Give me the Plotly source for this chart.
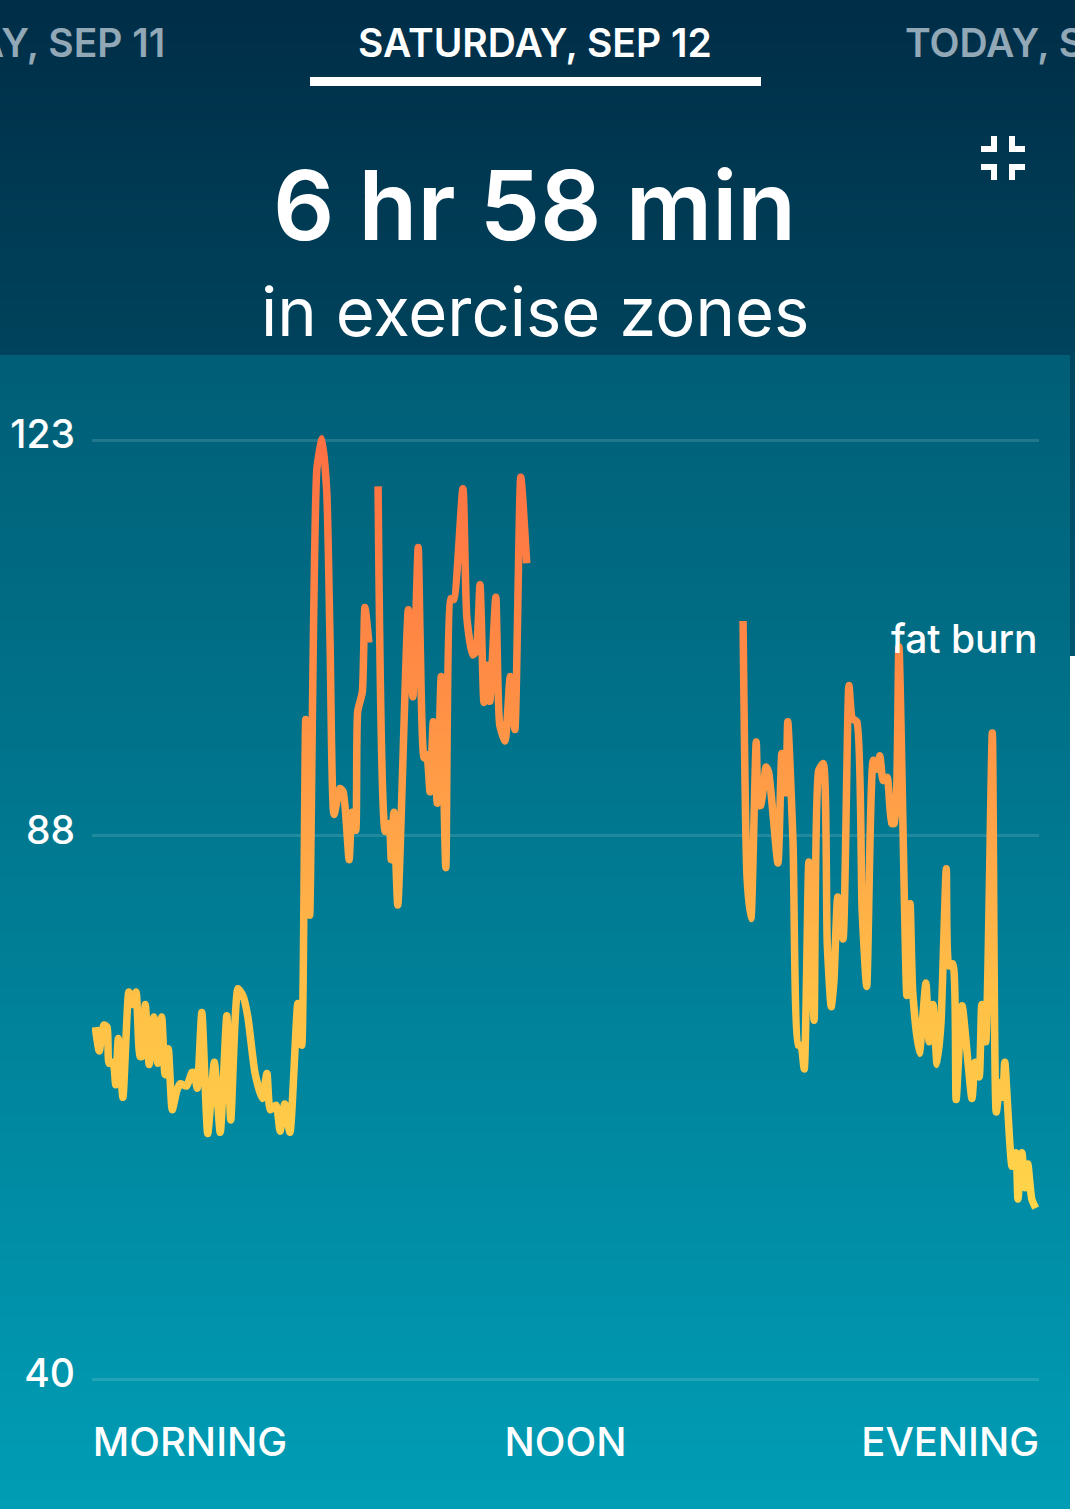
import plotly.graph_objects as go

W, H = 1075, 1509

# ---- data: minutes since the start of the day, heart rate in bpm ----
minutes_a = [5,11,18,23,26,32,36,40,47,56,61,67,73,76,81,87,94,100,106,111,116,122,129,134,144,152,155,160,167,176,186,195,205,211,222,230,237,248,259,266,271,280,286,293,301,313,319,325,331,342,350,357,362,368,377,382,391,395,401,404,411,415,421]
bpm_a = [71.1,69.0,71.3,71.1,67.9,68.0,66.0,70.1,64.9,74.2,73.1,74.2,68.5,68.5,73.1,67.8,72.0,67.9,72.0,66.9,69.2,63.8,65.5,66.1,65.9,67.1,67.1,65.7,72.4,61.7,68.0,61.8,72.1,62.9,74.5,73.8,72.0,67.0,64.8,67.0,63.8,64.2,61.9,64.3,61.8,73.2,69.5,98.3,81.0,120.5,123.1,118.4,105.1,89.9,92.2,91.9,85.9,90.1,88.5,99.0,100.7,108.2,105.1]
minutes_b = [435,446,452,455,459,465,481,488,496,499,505,509,514,519,525,531,538,546,550,564,570,579,584,590,596,601,605,614,620,628,636,643,652,661]
bpm_b = [118.9,88.4,89.1,85.9,90.1,81.9,108.0,100.3,113.5,105.3,94.9,95.2,91.9,98.1,90.9,102.1,85.2,109.0,108.9,118.7,107.3,104.0,104.3,110.2,99.8,103.1,99.9,109.1,97.8,96.4,102.1,97.4,119.7,112.1]
minutes_c = [990,996,1002,1010,1014,1017,1025,1029,1043,1049,1055,1058,1066,1074,1078,1083,1090,1098,1105,1112,1118,1124,1128,1134,1142,1151,1156,1163,1171,1178,1188,1194,1198,1203,1209,1216,1220,1227,1239,1244,1248,1258,1268,1273,1279,1285,1291,1299,1303,1309,1314,1323,1338,1343,1349,1353,1359,1369,1375,1381,1385,1388,1399,1405,1408,1414,1419,1423,1429,1435]
bpm_c = [107.0,84.4,80.7,96.3,90.7,90.7,94.1,93.6,85.6,95.3,91.8,98.1,87.4,69.5,69.5,67.4,85.7,71.7,93.8,94.4,78.5,72.9,75.0,82.6,78.9,101.3,98.4,98.1,81.5,74.7,94.7,93.9,95.1,92.9,93.2,89.1,89.1,104.7,73.9,82.0,74.2,68.8,75.0,69.8,73.1,67.8,71.5,85.1,76.5,76.7,64.7,73.0,64.8,68.0,66.7,73.1,69.8,97.1,63.6,66.2,64.9,68.0,58.8,60.0,55.9,60.0,56.9,59.0,55.9,55.1]

y_ticks = [40, 88, 123]
x_tick_minutes = [149, 720, 1305]
x_tick_labels = ["MORNING", "NOON", "EVENING"]
tabs = ["FRIDAY, SEP 11", "SATURDAY, SEP 12", "TODAY, SEP 13"]
headline = "6 hr 58 min"
subhead = "in exercise zones"
zone_label = "fat burn"

FONT = "Inter"
minutes = minutes_a + [None] + minutes_b + [None] + minutes_c
bpm = bpm_a + [None] + bpm_b + [None] + bpm_c


def fx(px):
    return px / W


def fy(py):
    return 1 - py / H


# chart plot area in page pixels (PT, PB are the 123 and 40 gridlines)
PL, PR, PT, PB = 92, 1039, 440, 1379
PAD = 12
YMIN, YMAX = 40, 123
XMIN, XMAX = 0, 1440


def v_at(py):
    return YMAX - (py - PT) / (PB - PT) * (YMAX - YMIN)


fig = go.Figure()

# page background
header_stop = 355 / H
fig.add_trace(go.Heatmap(
    z=[[r] for r in range(H)], x=[0], y=list(range(H)), xaxis="x", yaxis="y",
    zmin=0, zmax=H - 1, showscale=False, hoverinfo="skip",
    colorscale=[[0, "rgb(0,45,71)"], [header_stop, "rgb(0,67,92)"],
                [header_stop + 1e-6, "rgb(0,94,118)"], [1, "rgb(0,157,181)"]],
))

# heart-rate line (its stroke gets a vertical colour ramp in the page script below)
fig.add_trace(go.Scatter(
    x=minutes, y=bpm, mode="lines", xaxis="x2", yaxis="y2", connectgaps=False,
    cliponaxis=False, name="heart rate",
    line=dict(color="rgb(255,165,72)", width=7.5, shape="spline", smoothing=0.55, simplify=False),
    hoverinfo="skip", showlegend=False))

layout = dict(
    width=W, height=H, autosize=False,
    margin=dict(l=0, r=0, t=0, b=0, pad=0),
    paper_bgcolor="rgb(0,94,118)", plot_bgcolor="rgba(0,0,0,0)",
    showlegend=False, hovermode=False,
    xaxis=dict(domain=[0, 1], range=[-0.5, 0.5], visible=False, fixedrange=True, anchor="y",
               automargin=False),
    yaxis=dict(domain=[0, 1], range=[H - 0.5, -0.5], visible=False, fixedrange=True, anchor="x",
               automargin=False),
    xaxis2=dict(domain=[fx(PL), fx(PR)], range=[XMIN, XMAX], anchor="y2", automargin=False,
                tickvals=x_tick_minutes, ticktext=x_tick_labels,
                tickfont=dict(family=FONT, size=40, color="white", weight=500),
                ticks="", showgrid=False, zeroline=False, showline=False,
                ticklabelstandoff=24, fixedrange=True),
    yaxis2=dict(domain=[fy(PB + PAD), fy(PT - PAD)], range=[v_at(PB + PAD), v_at(PT - PAD)],
                anchor="x2", tickvals=y_ticks, automargin=False,
                tickfont=dict(family=FONT, size=39, color="white", weight=500), ticks="",
                gridcolor="rgba(255,255,255,0.13)", gridwidth=2.5, zeroline=False,
                showline=False, ticklabelstandoff=16, ticklabelshift=-6, fixedrange=True),
)


def rect(x0, y0, x1, y1, color):
    return dict(type="rect", xref="paper", yref="paper", x0=fx(x0), x1=fx(x1),
                y0=fy(y1), y1=fy(y0), fillcolor=color, line=dict(width=0), layer="above")


shapes = [rect(310, 77, 761, 86, "white"), rect(1070, 656, 1076, 1510, "white")]
# darker strip on the right edge
for top in range(355, 656, 15):
    t = (top - 355) / 301
    g = 70 + t * 17
    b = 95 + t * 17
    shapes.append(rect(1070, top, 1076, min(top + 15, 656), f"rgb(0,{g:.0f},{b:.0f})"))
# collapse icon
for x0, y0, x1, y1 in [(991, 136, 997, 152), (981, 146, 997, 152),
                       (1009, 136, 1015, 152), (1009, 146, 1025, 152),
                       (981, 164, 997, 170), (991, 164, 997, 180),
                       (1009, 164, 1025, 170), (1009, 164, 1015, 180)]:
    shapes.append(rect(x0, y0, x1, y1, "white"))
layout["shapes"] = shapes


def label(text, px, py, size, anchor="center", color="white", weight=400):
    return dict(text=text, xref="paper", yref="paper", x=fx(px), y=fy(py),
                xanchor=anchor, yanchor="middle", showarrow=False,
                font=dict(family=FONT, size=size, color=color, weight=weight))


layout["annotations"] = [
    label(tabs[0], 167, 42, 39, "right", "rgb(146,168,182)", 600),
    label(tabs[1], 535, 42, 39, "center", "white", 600),
    label(tabs[2], 903, 42, 39, "left", "rgb(146,168,182)", 600),
    label(headline, 534, 205, 96, "center", "white", 600),
    label(subhead, 535, 312, 67, "center", "white", 400),
    label(zone_label, 1040, 638, 39, "right", "white", 500),
]
fig.update_layout(**layout)

page_script = """
document.body.style.margin = '0';
document.documentElement.style.overflow = 'hidden';
var svg = document.querySelector('.main-svg');
var ns = 'http://www.w3.org/2000/svg';
var defs = document.createElementNS(ns, 'defs');
var g = document.createElementNS(ns, 'linearGradient');
g.setAttribute('id', 'hrramp');
g.setAttribute('gradientUnits', 'userSpaceOnUse');
g.setAttribute('x1', '0'); g.setAttribute('x2', '0');
g.setAttribute('y1', '%d'); g.setAttribute('y2', '%d');
[[0, 'rgb(255,112,67)'], [0.342, 'rgb(255,143,69)'], [0.521, 'rgb(255,165,72)'],
 [0.737, 'rgb(255,193,70)'], [0.868, 'rgb(255,200,72)'], [1, 'rgb(255,213,74)']].forEach(function (s) {
  var st = document.createElementNS(ns, 'stop');
  st.setAttribute('offset', s[0]); st.setAttribute('stop-color', s[1]);
  g.appendChild(st);
});
defs.appendChild(g); svg.insertBefore(defs, svg.firstChild);
document.querySelectorAll('.scatterlayer .js-line').forEach(function (p) {
  p.style.stroke = 'url(#hrramp)';
  p.style.strokeLinejoin = 'round';
});
""" % (PAD, PAD + 760)
fig.write_html("out.html", config=dict(displayModeBar=False, responsive=False),
               default_width=W, default_height=H, post_script=page_script)
